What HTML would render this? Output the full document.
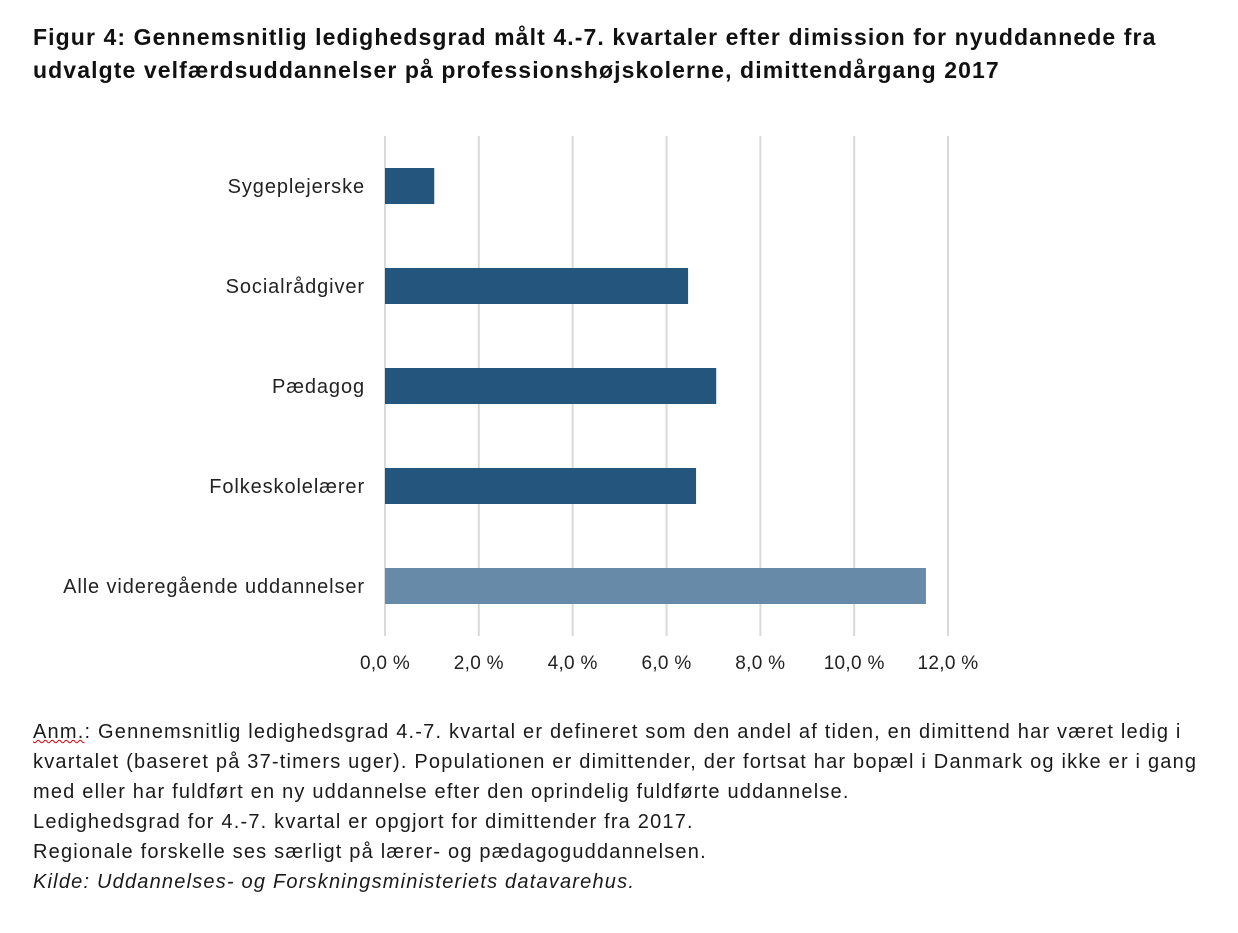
<!DOCTYPE html>
<html><head><meta charset="utf-8"><style>
body{margin:0;background:#fff;width:1238px;height:933px;overflow:hidden;font-family:"Liberation Sans",sans-serif;color:#111}
#title{position:absolute;left:33px;top:21px;font-weight:bold;font-size:23px;line-height:33px;letter-spacing:1.1px;white-space:nowrap}
#note{position:absolute;left:33px;top:717px;font-size:20px;line-height:30px;color:#1a1a1a;letter-spacing:1.2px;white-space:nowrap}
</style></head><body>
<div id="title">Figur 4: Gennemsnitlig ledighedsgrad målt 4.-7. kvartaler efter dimission for nyuddannede fra<br>udvalgte velfærdsuddannelser på professionshøjskolerne, dimittendårgang 2017</div>
<svg id="chart" width="1238" height="700" style="position:absolute;left:0;top:0" font-family="Liberation Sans, sans-serif"></svg>
<div id="note"><span style="text-decoration:underline wavy #c00;text-decoration-thickness:1px">Anm.</span>: Gennemsnitlig ledighedsgrad 4.-7. kvartal er defineret som den andel af tiden, en dimittend har været ledig i<br>kvartalet (baseret på 37-timers uger). Populationen er dimittender, der fortsat har bopæl i Danmark og ikke er i gang<br>med eller har fuldført en ny uddannelse efter den oprindelig fuldførte uddannelse.<br>Ledighedsgrad for 4.-7. kvartal er opgjort for dimittender fra 2017.<br>Regionale forskelle ses særligt på lærer- og pædagoguddannelsen.<br><i>Kilde: Uddannelses- og Forskningsministeriets datavarehus.</i></div>
<script>
const categories=["Sygeplejerske","Socialrådgiver","Pædagog","Folkeskolelærer","Alle videregående uddannelser"];
const values=[1.05,6.46,7.06,6.63,11.53];
const ticks=[0,2,4,6,8,10,12];
const tickLabels=["0,0 %","2,0 %","4,0 %","6,0 %","8,0 %","10,0 %","12,0 %"];
const svg=document.getElementById('chart');
const NS='http://www.w3.org/2000/svg';
const x=v=>385+v*(948-385)/12;
const y=i=>186+i*100;
function mk(t,a){const e=document.createElementNS(NS,t);for(const k in a)e.setAttribute(k,a[k]);svg.appendChild(e);return e;}
ticks.forEach((t,i)=>{
  const g=mk('line',{x1:x(t),x2:x(t),y1:136,y2:636,stroke:'#d9d9d9','stroke-width':2});
  
  
  const l=mk('text',{x:x(t),y:669,'text-anchor':'middle','font-size':19,fill:'#222','letter-spacing':0.3});
  l.textContent=tickLabels[i];
  
  
});
categories.forEach((c,i)=>{
  const b=mk('rect',{x:x(0),y:y(i)-18,width:x(values[i])-x(0),height:36,fill:i===4?'#668aa8':'#23557d'});
  
  
  const t=mk('text',{x:365,y:y(i)+7,'text-anchor':'end','font-size':20,fill:'#222','letter-spacing':0.9});
  t.textContent=c;
  
  
});
</script>
</body></html>
